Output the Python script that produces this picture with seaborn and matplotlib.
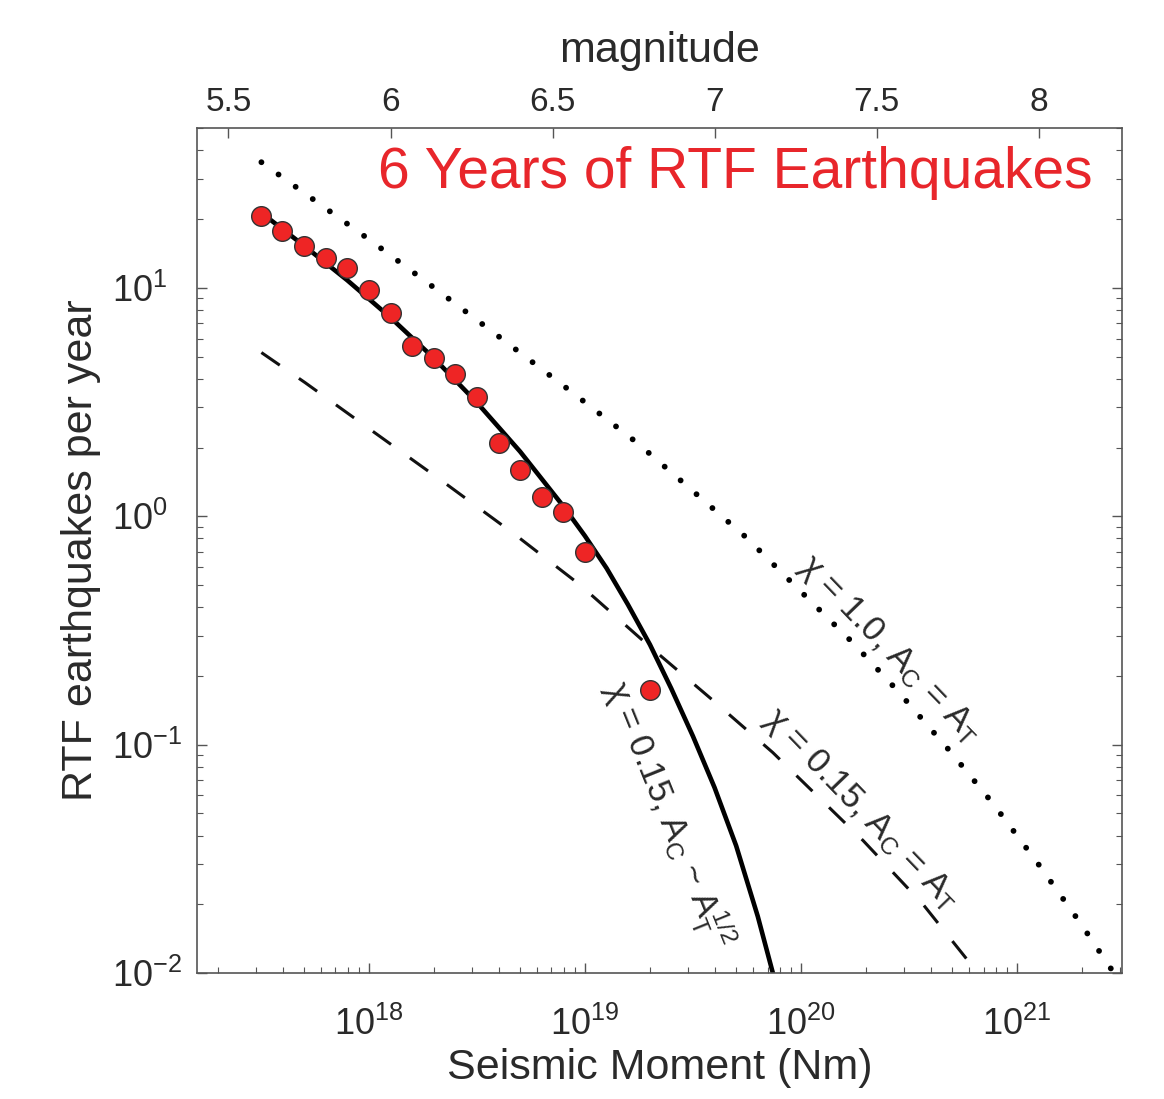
import numpy as np
import pandas as pd
import matplotlib
matplotlib.use("Agg")
import matplotlib.pyplot as plt
import seaborn as sns
from matplotlib.ticker import LogLocator, LogFormatterMathtext, NullFormatter, FixedLocator, NullLocator

# ---------------- data ----------------
moment_obs = [3.16e17, 3.98e17, 5.01e17, 6.31e17, 7.94e17, 1.00e18, 1.26e18, 1.58e18,
              2.00e18, 2.51e18, 3.16e18, 3.98e18, 5.01e18, 6.31e18, 7.94e18, 1.00e19, 2.00e19]
rate_obs = [20.7, 17.8, 15.2, 13.5, 12.2, 9.8, 7.74, 5.57,
            4.92, 4.19, 3.34, 2.10, 1.59, 1.22, 1.04, 0.695, 0.174]

# chi = 0.15, Ac ~ At^1/2 (solid)
moment_solid = [3.16e17, 5.01e17, 7.94e17, 1.26e18, 2.00e18, 3.16e18, 5.01e18, 7.94e18,
                1.00e19, 1.26e19, 1.58e19, 2.00e19, 2.51e19, 3.16e19, 3.98e19, 5.01e19,
                6.31e19, 7.41e19]
rate_solid = [21.4, 15.3, 10.8, 7.41, 4.92, 3.15, 1.92, 1.107,
              0.820, 0.592, 0.411, 0.274, 0.176, 0.109, 0.0649, 0.0361,
              0.0177, 0.0100]

# chi = 0.15, Ac = At (dashed)
moment_dash = [3.18e17, 5.06e17, 1.086e18, 2.29e18, 4.74e18, 9.48e18, 1.94e19, 3.86e19,
               7.41e19, 1.94e20, 3.67e20, 6.40e20]
rate_dash = [5.21, 3.85, 2.29, 1.38, 0.832, 0.501, 0.275, 0.158, 0.0923, 0.0380, 0.0200, 0.01035]

# chi = 1.0, Ac = At (dotted)
moment_dot = [3.18e17, 1.01e18, 1.98e18, 3.95e18, 8.79e18, 1.74e19, 2.75e19, 5.61e19,
              8.71e19, 1.74e20, 2.77e20, 4.90e20, 7.74e20, 1.23e21, 1.96e21, 2.74e21]
rate_dot = [35.5, 16.2, 10.1, 6.17, 3.47, 2.10, 1.445, 0.804,
            0.532, 0.279, 0.174, 0.0935, 0.0552, 0.0308, 0.0166, 0.01035]

mag_ticks = [5.5, 6, 6.5, 7, 7.5, 8]
mag_labels = ["5.5", "6", "6.5", "7", "7.5", "8"]

title_text = "6 Years of RTF Earthquakes"
label_dot = r"χ = 1.0, A$_{C}$ = A$_{T}$"
label_dash = r"χ = 0.15, A$_{C}$ = A$_{T}$"
label_solid = r"χ = 0.15, A$_{C}$ ~ A$_{T}^{1/2}$"

# ---------------- style ----------------
sns.set_theme(style="ticks")
plt.rcParams["font.family"] = ["Liberation Sans", "DejaVu Sans"]
plt.rcParams["mathtext.fontset"] = "custom"
plt.rcParams["mathtext.rm"] = "Liberation Sans"
plt.rcParams["mathtext.it"] = "Liberation Sans:italic"
plt.rcParams["mathtext.bf"] = "Liberation Sans:bold"
plt.rcParams["mathtext.default"] = "regular"

TXT = "#2a2a2a"
SPINE = "#555555"

fig = plt.figure(figsize=(11.64, 10.99), dpi=100)
ax = fig.add_axes([0.1692, 0.1146, 0.7947, 0.7689])
ax.set_xscale("log")
ax.set_yscale("log")

sns.lineplot(x=moment_dot, y=rate_dot, ax=ax, color="black", lw=4.2,
             linestyle=(0, (0.01, 3.6)), dash_capstyle="round", sort=False, estimator=None)
sns.lineplot(x=moment_dash, y=rate_dash, ax=ax, color="#111111", lw=2.2,
             linestyle=(0, (7.3, 7.6)), sort=False, estimator=None)
sns.lineplot(x=moment_solid, y=rate_solid, ax=ax, color="black", lw=3.3,
             sort=False, estimator=None)
sns.scatterplot(x=moment_obs, y=rate_obs, ax=ax, s=200, color="#ee2525",
                edgecolor="#333333", linewidth=1.0, zorder=5)

xlim = (1.6e17, 3.06e21)
ax.set_xlim(*xlim)
ax.set_ylim(1e-2, 50.1)

ax.xaxis.set_major_locator(LogLocator(base=10, numticks=20))
ax.xaxis.set_minor_locator(LogLocator(base=10, subs=np.arange(2, 10), numticks=200))
ax.xaxis.set_major_formatter(LogFormatterMathtext())
ax.xaxis.set_minor_formatter(NullFormatter())
ax.yaxis.set_major_locator(LogLocator(base=10, numticks=20))
ax.yaxis.set_minor_locator(LogLocator(base=10, subs=np.arange(2, 10), numticks=200))
ax.yaxis.set_major_formatter(LogFormatterMathtext())
ax.yaxis.set_minor_formatter(NullFormatter())

for s in ax.spines.values():
    s.set_color(SPINE)
    s.set_linewidth(1.2)

# top magnitude axis
ax2 = ax.twiny()
mw = lambda m0: (2.0 / 3.0) * (np.log10(m0) - 9.1)
ax2.set_xlim(mw(xlim[0]), mw(xlim[1]))
ax2.xaxis.set_major_locator(FixedLocator(mag_ticks))
ax2.set_xticklabels(mag_labels)
ax2.xaxis.set_minor_locator(NullLocator())
ax2.tick_params(axis="x", which="major", direction="in", length=7, width=1,
                color=SPINE, labelsize=24, labelcolor=TXT, pad=7)
ax2.set_xlabel("magnitude", fontsize=31, color=TXT, labelpad=18)
for s in ax2.spines.values():
    s.set_visible(False)

ax.tick_params(which="both", direction="in", bottom=True, left=True, right=True, top=False,
               color=SPINE, labelcolor=TXT)
ax.tick_params(which="major", length=7, width=1)
ax.tick_params(which="minor", length=4, width=0.8)
ax.tick_params(axis="x", which="major", labelsize=26, pad=24)
ax.tick_params(axis="y", which="major", labelsize=26, pad=61)
plt.setp(ax.get_yticklabels(), ha="left")

ax.set_xlabel("Seismic Moment (Nm)", fontsize=31, color=TXT, labelpad=4)
ax.set_ylabel("RTF earthquakes per year", fontsize=31, color=TXT, labelpad=8)

ax.text(0.9676, 0.947, title_text, transform=ax.transAxes, ha="right", va="center",
        color="#e8262b", fontsize=41)

ax.text(2.57e20, 0.26, label_dot, fontsize=25, color=TXT, rotation=-46,
        rotation_mode="anchor", ha="center", va="center")
ax.text(1.9e20, 0.052, label_dash, fontsize=25, color=TXT, rotation=-46,
        rotation_mode="anchor", ha="center", va="center")
ax.text(2.42e19, 0.0494, label_solid, fontsize=25, color=TXT, rotation=-68,
        rotation_mode="anchor", ha="center", va="center")

fig.savefig("out.png", dpi=100)
